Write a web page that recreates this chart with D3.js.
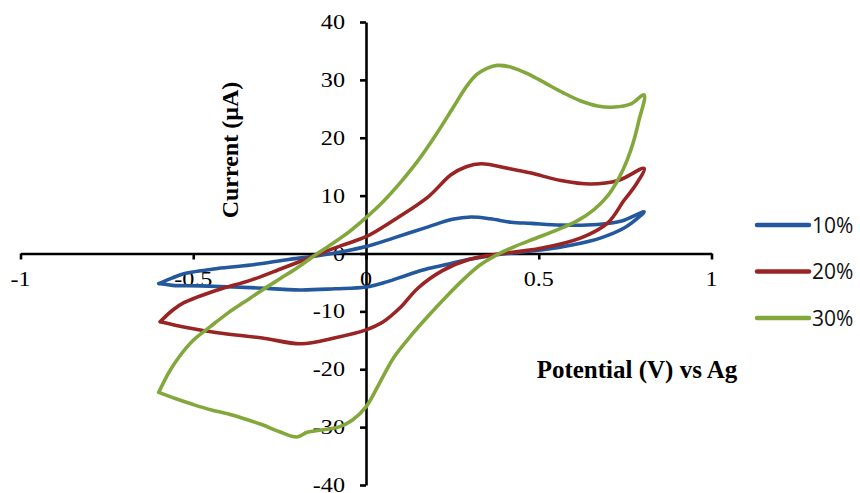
<!DOCTYPE html>
<html>
<head>
<meta charset="utf-8">
<script src="https://cdn.jsdelivr.net/npm/d3@7"></script>
<style>
  html, body { margin: 0; padding: 0; background: #fff; }
  svg { display: block; }
</style>
</head>
<body>
<svg id="chart" width="860" height="493"></svg>
<script>
// Cyclic voltammograms: each loop runs the forward (upper) sweep from -0.6 V to 0.8 V,
// then the reverse (lower) sweep back to -0.6 V.
const seriesNames = ["10%", "20%", "30%"];
const seriesColors = ["#23589e", "#9a2424", "#82a83c"];

const potential10 = [-0.60, -0.56, -0.527, -0.43, -0.333, -0.22, -0.14, -0.07, 0.00, 0.081, 0.18, 0.25, 0.304, 0.36, 0.42, 0.478, 0.564, 0.67, 0.74, 0.805,
  0.78, 0.747, 0.68, 0.60, 0.506, 0.44, 0.37, 0.30, 0.24, 0.18, 0.12, 0.06, 0.00, -0.09, -0.19, -0.333, -0.478, -0.56, -0.60];
const current10 = [-5.2, -4.2, -3.5, -2.6, -2.0, -1.0, -0.4, 0.3, 1.2, 2.7, 4.6, 5.9, 6.3, 6.0, 5.4, 5.2, 4.9, 5.0, 5.6, 7.2,
  5.8, 4.4, 2.7, 1.5, 0.6, 0.2, -0.3, -1.0, -1.8, -2.6, -3.7, -4.9, -5.8, -6.1, -6.3, -5.9, -5.6, -5.5, -5.2];

const potential20 = [-0.596, -0.56, -0.527, -0.43, -0.333, -0.24, -0.14, -0.07, 0.00, 0.081, 0.18, 0.246, 0.29, 0.333, 0.42, 0.478, 0.564, 0.65, 0.73, 0.805,
  0.78, 0.747, 0.70, 0.622, 0.506, 0.37, 0.30, 0.22, 0.15, 0.10, 0.05, 0.00, -0.092, -0.188, -0.30, -0.43, -0.52, -0.596];
const current20 = [-11.8, -9.8, -8.5, -6.3, -4.6, -2.5, -0.2, 1.4, 2.9, 5.8, 9.8, 13.6, 15.0, 15.5, 14.6, 13.9, 12.6, 12.0, 12.6, 14.7,
  11.8, 9.2, 5.3, 2.7, 0.9, -0.2, -1.0, -3.0, -6.0, -9.3, -11.8, -13.2, -14.6, -15.6, -14.6, -13.7, -12.8, -11.8];

const potential30 = [-0.60, -0.57, -0.54, -0.50, -0.45, -0.40, -0.35, -0.30, -0.25, -0.20, -0.15, -0.10, -0.05, 0.00, 0.05, 0.10, 0.15, 0.20, 0.25, 0.29, 0.32, 0.35, 0.38, 0.42, 0.47, 0.52, 0.57, 0.62, 0.67, 0.72, 0.765, 0.805,
  0.79, 0.775, 0.755, 0.73, 0.70, 0.66, 0.61, 0.55, 0.49, 0.43, 0.38, 0.33, 0.28, 0.23, 0.18, 0.13, 0.08, 0.04, 0.00, -0.04, -0.08, -0.13, -0.17, -0.20, -0.25, -0.30, -0.35, -0.40, -0.45, -0.50, -0.55, -0.60];
const current30 = [-24.0, -20.5, -17.8, -15.0, -12.6, -10.3, -8.3, -6.3, -4.4, -2.5, -0.4, 1.6, 3.7, 6.2, 9.0, 12.3, 16.0, 20.3, 25.0, 28.8, 30.9, 32.0, 32.5, 32.2, 31.0, 29.4, 27.8, 26.4, 25.5, 25.3, 25.8, 27.4,
  23.0, 19.5, 16.0, 12.8, 10.0, 7.6, 5.6, 4.0, 2.6, 1.2, -0.2, -2.0, -4.6, -7.6, -10.8, -14.2, -18.0, -22.3, -26.5, -28.8, -30.0, -30.5, -30.9, -31.7, -30.8, -29.6, -28.6, -27.7, -27.0, -26.1, -25.1, -24.0];

const xTicks = [-1, -0.5, 0, 0.5, 1];
const xTickLabels = ["-1", "-0.5", "0", "0.5", "1"];
const yTicks = [-40, -30, -20, -10, 0, 10, 20, 30, 40];
const yTickLabels = ["-40", "-30", "-20", "-10", "0", "10", "20", "30", "40"];

const series = [
  { name: seriesNames[0], color: seriesColors[0], x: potential10, y: current10 },
  { name: seriesNames[1], color: seriesColors[1], x: potential20, y: current20 },
  { name: seriesNames[2], color: seriesColors[2], x: potential30, y: current30 }
];

const svg = d3.select("#chart");
const x = d3.scaleLinear().domain([-1, 1]).range([20.5, 711.5]);
const y = d3.scaleLinear().domain([-40, 40]).range([485, 22]);

const tickFont = "'Liberation Serif', 'Times New Roman', serif";
const stretch = 1.15;

// Axes cross at the origin
const xAxis = d3.axisBottom(x).tickValues(xTicks).tickSize(6).tickSizeOuter(0).tickFormat("");
const yAxis = d3.axisLeft(y).tickValues(yTicks).tickSize(6).tickSizeOuter(0).tickFormat("");

const gx = svg.append("g").attr("transform", `translate(0,${y(0)})`).call(xAxis);
const gy = svg.append("g").attr("transform", `translate(${x(0)},0)`).call(yAxis);
[gx, gy].forEach(g => {
  g.select(".domain").attr("stroke", "#000").attr("stroke-width", 2.6);
  g.selectAll(".tick line").attr("stroke", "#000").attr("stroke-width", 2.6);
});

// Tick labels
svg.append("g").selectAll("text").data(xTicks).join("text")
  .attr("transform", (d) => `translate(${x(d)},${y(0) + 32}) scale(${stretch},1)`)
  .attr("text-anchor", "middle")
  .style("font-family", tickFont).style("font-size", "21px").attr("fill", "#000")
  .text((d, i) => xTickLabels[i]);

svg.append("g").selectAll("text").data(yTicks).join("text")
  .attr("transform", (d) => `translate(${x(0) - 21},${y(d) + 7}) scale(${stretch},1)`)
  .attr("text-anchor", "end")
  .style("font-family", tickFont).style("font-size", "21px").attr("fill", "#000")
  .text((d, i) => yTickLabels[i]);

// Axis titles
svg.append("text")
  .attr("transform", `translate(238,150) rotate(-90)`)
  .attr("text-anchor", "middle")
  .style("font-family", tickFont).style("font-size", "24px").style("font-weight", "bold")
  .text("Current (µA)");

svg.append("text")
  .attr("x", 637).attr("y", 378)
  .attr("text-anchor", "middle")
  .style("font-family", tickFont).style("font-size", "25px").style("font-weight", "bold")
  .text("Potential (V) vs Ag");

// Voltammogram loops
const line = d3.line()
  .x(d => x(d[0]))
  .y(d => y(d[1]))
  .curve(d3.curveCatmullRom.alpha(0.5));

svg.append("g").selectAll("path").data(series).join("path")
  .attr("d", s => line(s.x.map((v, i) => [v, s.y[i]])))
  .attr("fill", "none")
  .attr("stroke", s => s.color)
  .attr("stroke-width", 3.6)
  .attr("stroke-linejoin", "round")
  .attr("stroke-linecap", "round");

// Legend
const legend = svg.append("g").selectAll("g").data(series).join("g")
  .attr("transform", (d, i) => `translate(757,${225 + i * 46.5})`);
legend.append("line")
  .attr("x1", 0).attr("x2", 52).attr("y1", 0).attr("y2", 0)
  .attr("stroke", d => d.color).attr("stroke-width", 4.5).attr("stroke-linecap", "round");
legend.append("text")
  .attr("x", 55).attr("y", 7.5)
  .style("font-family", "'Open Sans', 'Liberation Sans', sans-serif").style("font-size", "21px")
  .attr("fill", "#111")
  .text(d => d.name);
</script>
</body>
</html>
